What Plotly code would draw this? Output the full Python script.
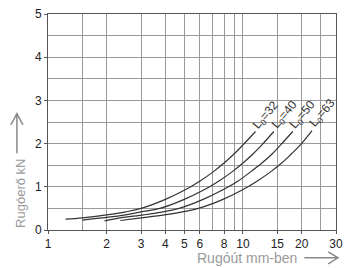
import math
import plotly.graph_objects as go

# Data (x: Rugóút mm, y: Rugóerő kN)
x_l32 = [1.23, 1.5, 2, 2.5, 3, 4, 5, 6, 7, 8, 9, 10, 11.6]
y_l32 = [0.25, 0.28, 0.35, 0.42, 0.50, 0.71, 0.92, 1.13, 1.34, 1.55, 1.76, 1.97, 2.28]
x_l40 = [1.5, 2, 2.5, 3, 3.75, 5, 6.25, 7.5, 8.75, 10, 11.25, 12.5, 14.4]
y_l40 = [0.23, 0.29, 0.35, 0.42, 0.50, 0.71, 0.92, 1.13, 1.34, 1.55, 1.76, 1.97, 2.28]
x_l50 = [1.95, 2.35, 3.1, 3.9, 4.7, 6.25, 7.8, 9.4, 10.9, 12.5, 14.1, 15.6, 18.0]
y_l50 = [0.21, 0.28, 0.35, 0.42, 0.50, 0.71, 0.92, 1.13, 1.34, 1.55, 1.76, 1.97, 2.28]
x_l63 = [2.35, 3.0, 3.95, 4.9, 5.9, 7.9, 9.85, 11.8, 13.8, 15.8, 17.7, 19.7, 22.6]
y_l63 = [0.22, 0.28, 0.35, 0.42, 0.50, 0.71, 0.92, 1.13, 1.34, 1.55, 1.76, 1.97, 2.30]

series_names = ["L<sub>0</sub>=32", "L<sub>0</sub>=40", "L<sub>0</sub>=50", "L<sub>0</sub>=63"]
label_x = [13.2, 16.4, 20.3, 25.8]
label_y = [2.66, 2.66, 2.66, 2.70]

x_tickvals = [1, 2, 3, 4, 5, 6, 8, 10, 15, 20, 30]
x_minor = [1.5, 7, 9, 25]
y_tickvals = [0, 1, 2, 3, 4, 5]
y_minor = [0.5, 1.5, 2.5, 3.5, 4.5]

FONT = "Liberation Sans, Arial, sans-serif"

fig = go.Figure()
for xs, ys in [(x_l32, y_l32), (x_l40, y_l40), (x_l50, y_l50), (x_l63, y_l63)]:
    fig.add_trace(go.Scatter(x=xs, y=ys, mode="lines", line=dict(color="#333333", width=1.2, shape="spline"),
                             showlegend=False, hoverinfo="skip"))

for name, lx, ly in zip(series_names, label_x, label_y):
    fig.add_annotation(x=math.log10(lx), y=ly, xref="x", yref="y", text=name, showarrow=False, textangle=-50,
                       xanchor="center", yanchor="middle",
                       font=dict(family=FONT, size=12, color="#333333"))

# axis titles as annotations
fig.add_annotation(x=-0.095, y=0.17, xref="paper", yref="paper", text="Rugóerő kN", showarrow=False,
                   textangle=-90, xanchor="center", yanchor="middle",
                   font=dict(family=FONT, size=13, color="#9a9a9a"))
fig.add_annotation(x=0.69, y=-0.13, xref="paper", yref="paper", text="Rugóút mm-ben", showarrow=False,
                   xanchor="center", yanchor="middle",
                   font=dict(family=FONT, size=14, color="#9a9a9a"))

arrow_col = "#8a8a8a"
# x arrow
fig.add_shape(type="path", xref="paper", yref="paper",
              path="M 0.89 -0.129 L 1.007 -0.129 M 0.973 -0.101 L 1.007 -0.129 L 0.973 -0.157",
              line=dict(color=arrow_col, width=1.5))
# y arrow
fig.add_shape(type="path", xref="paper", yref="paper",
              path="M -0.108 0.355 L -0.108 0.539 M -0.129 0.487 L -0.108 0.539 L -0.087 0.487",
              line=dict(color=arrow_col, width=1.5))

fig.update_xaxes(type="log", range=[0, math.log10(30)], tickvals=x_tickvals, ticktext=[str(v) for v in x_tickvals],
                 showgrid=True, gridcolor="#9a9a9a", gridwidth=1,
                 minor=dict(tickvals=x_minor, showgrid=True, gridcolor="#9a9a9a", gridwidth=1),
                 showline=True, linecolor="#555555", linewidth=1, mirror=True,
                 ticks="outside", ticklen=3, tickcolor="#555555",
                 tickfont=dict(family=FONT, size=12, color="#222222"), zeroline=False)
fig.update_yaxes(range=[0, 5], tickvals=y_tickvals, showgrid=True, gridcolor="#9a9a9a", gridwidth=1,
                 minor=dict(tickvals=y_minor, showgrid=True, gridcolor="#9a9a9a", gridwidth=1),
                 showline=True, linecolor="#555555", linewidth=1, mirror=True,
                 ticks="outside", ticklen=3, tickcolor="#555555",
                 tickfont=dict(family=FONT, size=12, color="#222222"), zeroline=False)

fig.update_layout(width=350, height=268, margin=dict(l=48, r=7, t=13, b=38),
                  plot_bgcolor="white", paper_bgcolor="white", showlegend=False)

fig.write_html("out.html", config={"displayModeBar": False},
               post_script="document.body.style.margin='0px';")
